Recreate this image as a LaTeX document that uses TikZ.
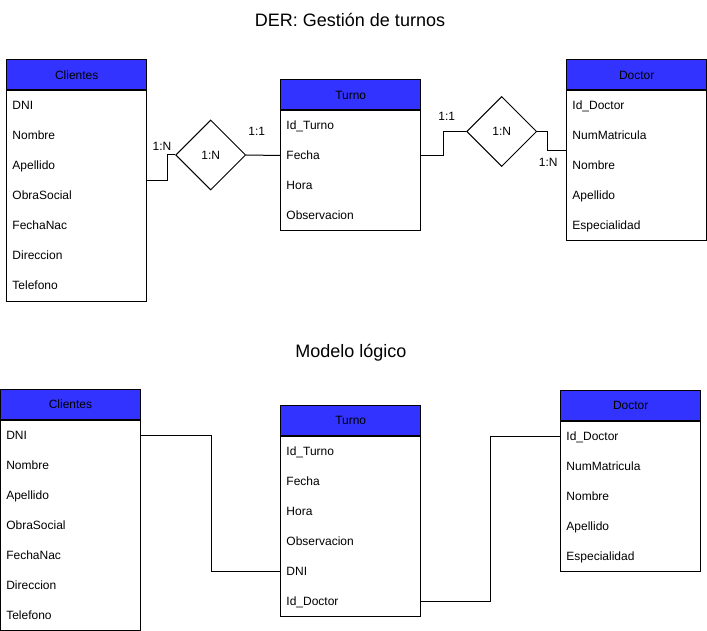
\documentclass[tikz,border=0pt]{standalone}
\usepackage{fontspec}
\setmainfont{Liberation Sans}
\usetikzlibrary{positioning,shapes.geometric,calc}
\definecolor{cabecera}{HTML}{3333FF}

\begin{document}
\begin{tikzpicture}[x=0.75pt, y=-0.75pt,
  every node/.style={font=\fontsize{9}{11}\selectfont},
  cabeza/.style={draw, fill=cabecera, minimum width=105pt, minimum height=22.5pt, inner sep=0pt, line width=0.75pt},
  cuerpo/.style={draw, fill=white, minimum width=105pt, inner sep=0pt, line width=0.75pt},
  campo/.style={anchor=west, inner sep=0pt, text height=8pt, text depth=2pt},
  rel/.style={draw, diamond, aspect=1, minimum size=52.5pt, inner sep=0pt, line width=0.75pt},
  card/.style={inner sep=0pt},
  linea/.style={line width=0.75pt},
  titulo/.style={font=\fontsize{13.5}{16}\selectfont}
]
\useasboundingbox (0,0) rectangle (707,631);

% DER
\node[titulo] (tit1) at (350,20) {DER: Gestión de turnos};

\node[cabeza] (cliH) at (76.7,75) {Clientes};
\node[cuerpo, minimum height=157.5pt, below=0pt of cliH] (cliB) {};
\foreach \t [count=\i] in {DNI,Nombre,Apellido,ObraSocial,FechaNac,Direccion,Telefono}
  \node[campo] (cli-\i) at ($(cliB.north west)+(6,\i*30-15)$) {\t};

\node[cabeza] (turH) at (350.7,95) {Turno};
\node[cuerpo, minimum height=90pt, below=0pt of turH] (turB) {};
\foreach \t [count=\i] in {Id\_Turno,Fecha,Hora,Observacion}
  \node[campo] (tur-\i) at ($(turB.north west)+(6,\i*30-15)$) {\t};

\node[cabeza] (docH) at (636.7,75) {Doctor};
\node[cuerpo, minimum height=112.5pt, below=0pt of docH] (docB) {};
\foreach \t [count=\i] in {Id\_Doctor,NumMatricula,Nombre,Apellido,Especialidad}
  \node[campo] (doc-\i) at ($(docB.north west)+(6,\i*30-15)$) {\t};

\node[rel] (rel1) at (210.7,155) {1:N};
\node[rel] (rel2) at (501.7,131.5) {1:N};

\coordinate (cliE) at ($(cliH.north east)!0.5!(cliB.south east)$);
\coordinate (turW) at ($(turH.north west)!0.5!(turB.south west)$);
\coordinate (turE) at ($(turH.north east)!0.5!(turB.south east)$);
\coordinate (docW) at ($(docH.north west)!0.5!(docB.south west)$);

\draw[linea] (cliE) -- ++(20,0) |- (rel1.west);
\draw[linea] (rel1.east) -- (turW);
\draw[linea] (turE) -- ++(22.7,0) |- (rel2.west);
\draw[linea] (rel2.east) -- ++(10,0) |- (docW);

\node[card] (card1) at (162,146) {1:N};
\node[card] (card2) at (256.7,131) {1:1};
\node[card] (card3) at (446.7,116.7) {1:1};
\node[card] (card4) at (548.3,162) {1:N};

% Modelo logico
\node[titulo] (tit2) at (351,353) {Modelo lógico};

\node[cabeza] (cli2H) at (70.5,404.5) {Clientes};
\node[cuerpo, minimum height=157.5pt, below=0pt of cli2H] (cli2B) {};
\foreach \t [count=\i] in {DNI,Nombre,Apellido,ObraSocial,FechaNac,Direccion,Telefono}
  \node[campo] (cli2-\i) at ($(cli2B.north west)+(6,\i*30-15)$) {\t};

\node[cabeza] (tur2H) at (350.7,420.7) {Turno};
\node[cuerpo, minimum height=135pt, below=0pt of tur2H] (tur2B) {};
\foreach \t [count=\i] in {Id\_Turno,Fecha,Hora,Observacion,DNI,Id\_Doctor}
  \node[campo] (tur2-\i) at ($(tur2B.north west)+(6,\i*30-15)$) {\t};

\node[cabeza] (doc2H) at (630.7,405.7) {Doctor};
\node[cuerpo, minimum height=112.5pt, below=0pt of doc2H] (doc2B) {};
\foreach \t [count=\i] in {Id\_Doctor,NumMatricula,Nombre,Apellido,Especialidad}
  \node[campo] (doc2-\i) at ($(doc2B.north west)+(6,\i*30-15)$) {\t};

\draw[linea] (cli2B.east |- cli2-1) -- ++(70.7,0) |- (tur2B.west |- tur2-5);
\draw[linea] (tur2B.east |- tur2-6) -- ++(69.3,0) |- (doc2B.west |- doc2-1);
\end{tikzpicture}
\end{document}
